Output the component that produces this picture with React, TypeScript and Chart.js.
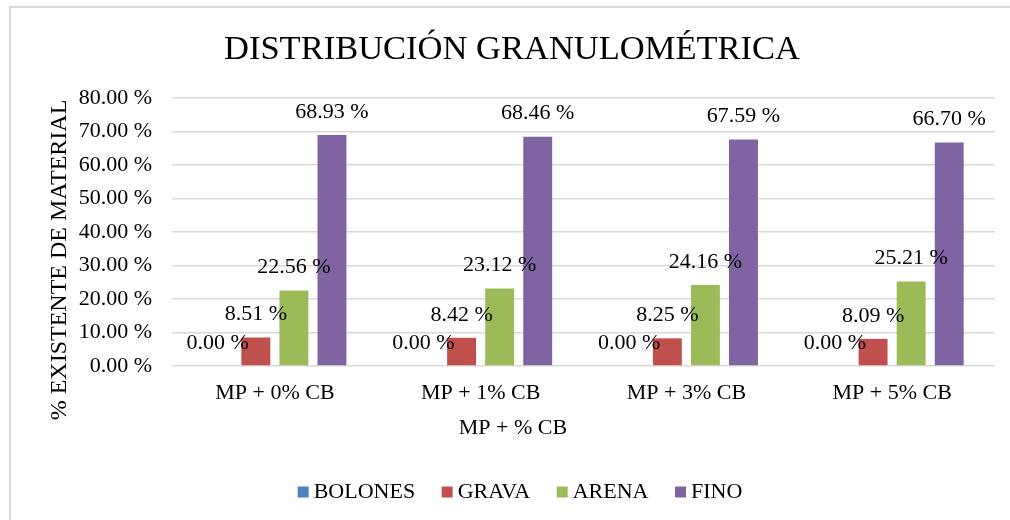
import React, { useEffect, useRef } from "react";
import { Chart, registerables } from "chart.js";

Chart.register(...registerables);

const categories = ["MP + 0% CB", "MP + 1% CB", "MP + 3% CB", "MP + 5% CB"];
const seriesNames = ["BOLONES", "GRAVA", "ARENA", "FINO"];
const bolones = [0, 0, 0, 0];
const grava = [8.51, 8.42, 8.25, 8.09];
const arena = [22.56, 23.12, 24.16, 25.21];
const fino = [68.93, 68.46, 67.59, 66.7];
const seriesColors = ["#4F81BD", "#C0504D", "#9BBB59", "#8064A2"];
const yTicks = [0, 10, 20, 30, 40, 50, 60, 70, 80];
const xTitle = "MP + % CB";
const yTitle = "% EXISTENTE DE MATERIAL";
const chartTitle = "DISTRIBUCIÓN GRANULOMÉTRICA";

const FONT = "'Liberation Serif', 'Times New Roman', serif";

const dataLabelPlugin = {
  id: "dataLabels",
  afterDatasetsDraw(chart: any) {
    const ctx = chart.ctx;
    ctx.save();
    ctx.font = `22px ${FONT}`;
    ctx.fillStyle = "#000";
    ctx.textAlign = "center";
    ctx.textBaseline = "middle";
    chart.data.datasets.forEach((ds: any, i: number) => {
      const meta = chart.getDatasetMeta(i);
      meta.data.forEach((bar: any, j: number) => {
        const v = ds.data[j] as number;
        ctx.fillText(`${v.toFixed(2)} %`, bar.x, bar.y - 23);
      });
    });
    ctx.restore();
  },
};

const titlesLegendPlugin = {
  id: "titlesLegend",
  afterDraw(chart: any) {
    const ctx = chart.ctx;
    const W = chart.width;
    const H = chart.height;
    ctx.save();
    ctx.fillStyle = "#000";
    ctx.textAlign = "center";
    ctx.textBaseline = "middle";
    // x-axis title
    ctx.font = `22px ${FONT}`;
    ctx.fillText(xTitle, W / 2 + 8, 428);
    // y-axis title
    ctx.save();
    ctx.translate(60, H / 2);
    ctx.rotate(-Math.PI / 2);
    ctx.font = `24px ${FONT}`;
    ctx.fillText(yTitle, 0, 0);
    ctx.restore();
    // legend
    ctx.font = `22px ${FONT}`;
    const box = 11;
    const boxGap = 5;
    const itemGap = 26.5;
    const widths = seriesNames.map((n) => box + boxGap + ctx.measureText(n).width);
    const total = widths.reduce((a, b) => a + b, 0) + itemGap * (seriesNames.length - 1);
    let x = 520 - total / 2;
    const cy = 492;
    ctx.textAlign = "left";
    seriesNames.forEach((n, i) => {
      ctx.fillStyle = seriesColors[i];
      ctx.fillRect(x, cy - box / 2, box, box);
      ctx.fillStyle = "#000";
      ctx.fillText(n, x + box + boxGap, cy);
      x += widths[i] + itemGap;
    });
    ctx.restore();
  },
};

export default function App() {
  const ref = useRef<HTMLCanvasElement | null>(null);
  useEffect(() => {
    if (!ref.current) return;
    const values = [bolones, grava, arena, fino];
    const chart = new Chart(ref.current, {
      type: "bar",
      data: {
        labels: categories,
        datasets: seriesNames.map((name, i) => ({
          label: name,
          data: values[i],
          backgroundColor: seriesColors[i],
          borderWidth: 0,
          categoryPercentage: 0.74,
          barPercentage: 0.76,
        })),
      },
      options: {
        responsive: false,
        animation: false,
        layout: { padding: { left: 29, right: 15, top: 7, bottom: 0 } },
        plugins: {
          title: {
            display: true,
            text: chartTitle,
            color: "#000",
            font: { family: FONT, size: 34.5, weight: "normal" },
            padding: { top: 22, bottom: 27.6 },
          },
          legend: { display: false },
          tooltip: { enabled: false },
        },
        scales: {
          x: {
            grid: { display: false, drawTicks: false },
            border: { display: false },
            ticks: { color: "#000", font: { family: FONT, size: 22 }, padding: 14 },
            afterFit: (scale: any) => {
              scale.height = 154;
            },
          },
          y: {
            min: 0,
            max: 80,
            afterBuildTicks: (scale: any) => {
              scale.ticks = yTicks.map((v) => ({ value: v }));
            },
            afterFit: (scale: any) => {
              scale.width = 143;
            },
            grid: { color: "#d9d9d9", lineWidth: 1.5, drawTicks: false },
            border: { display: false },
            ticks: {
              color: "#000",
              font: { family: FONT, size: 22 },
              padding: 20,
              callback: (v: any) => `${Number(v).toFixed(2)} %`,
            },
          },
        },
      },
      plugins: [dataLabelPlugin, titlesLegendPlugin],
    });
    return () => chart.destroy();
  }, []);

  return (
    <div style={{ position: "absolute", left: 0, top: 0, width: 1010, height: 520, background: "#fff" }}>
      <div
        style={{
          position: "absolute",
          left: 9,
          top: 6,
          width: 1010,
          height: 520,
          border: "2px solid #d9d9d9",
          boxSizing: "border-box",
        }}
      />
      <canvas ref={ref} width={1010} height={520} style={{ position: "absolute", left: 0, top: 0 }} />
    </div>
  );
}
